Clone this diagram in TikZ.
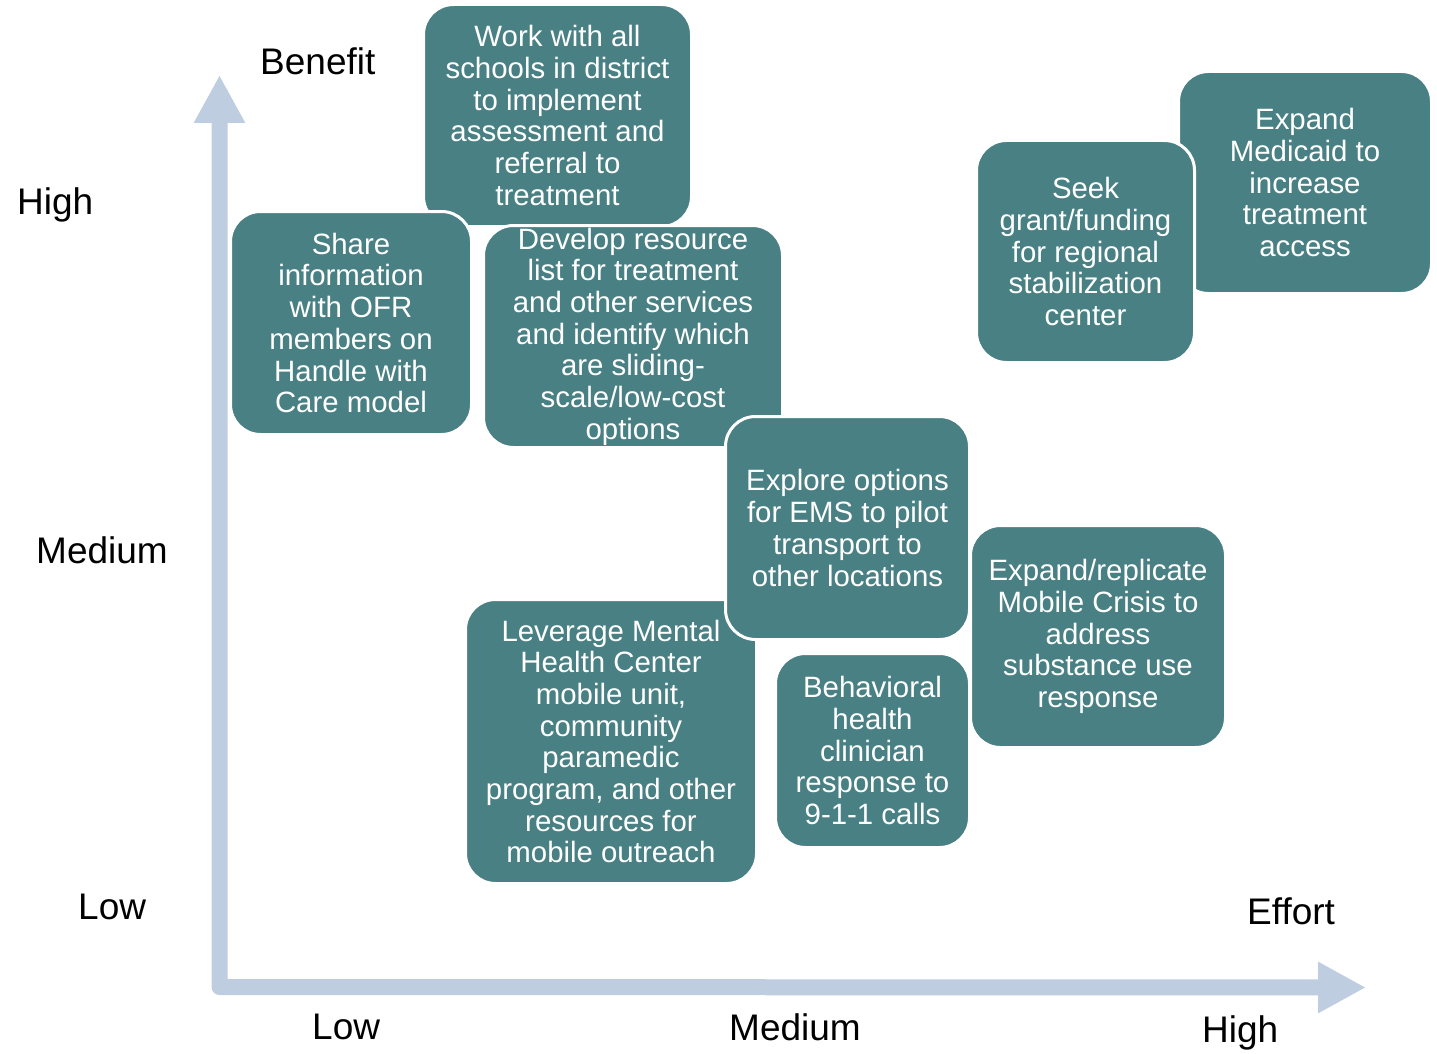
\documentclass[tikz,border=0pt]{standalone}
\usepackage{fontspec}
\setmainfont{Liberation Sans}
\usetikzlibrary{
  arrows.meta,
}
\definecolor{actionteal}{RGB}{73,128,132}
\definecolor{axisblue}{RGB}{191,205,224}
\tikzset{
  action/.style={rectangle, rounded corners=30pt, fill=actionteal, draw=white,
    line width=3pt, text=white, align=center, inner sep=0pt,
    font=\fontsize{29.4}{31.7}\selectfont},
  level/.style={anchor=base west, inner sep=0pt, font=\fontsize{37}{40}\selectfont},
  axis/.style={draw=axisblue, line width=16pt, line join=round,
    {Triangle[width=48pt,length=48pt]}-{Triangle[width=48pt,length=48pt]}},
}

\begin{document}
\begin{tikzpicture}[x=1pt, y=-1pt]
      \useasboundingbox (0,0) rectangle (1437,1054);
      \coordinate (origin) at (219.5,987);
      \coordinate (benefittip) at (219.5,75);
      \coordinate (efforttip) at (1366,987.5);
      \draw[axis] (benefittip) -- (origin) -- (efforttip);

      \node [level] (benefit) at (260,75) {Benefit};
      \node [level] (bhigh) at (17,214) {High};
      \node [level] (bmedium) at (36,563) {Medium};
      \node [level] (blow) at (78,919) {Low};
      \node [level] (effort) at (1247,924) {Effort};
      \node [level] (elow) at (312,1039) {Low};
      \node [level] (emedium) at (729,1040) {Medium};
      \node [level] (ehigh) at (1202,1042) {High};

      \node [action, minimum width=268pt, minimum height=222pt] (work) at (557.5,115.5) {
        Work with all\\schools in district\\to implement\\assessment and\\referral to\\treatment
      };
      \node [action, minimum width=241pt, minimum height=223pt] (share) at (351,323) {
        Share\\information\\with OFR\\members on\\Handle with\\Care model
      };
      \node [action, minimum width=299pt, minimum height=222pt] (develop) at (633,336.5) {
        Develop resource\\list for treatment\\and other services\\and identify which\\are sliding-\\scale/low-cost\\options
      };
      \node [action, minimum width=291pt, minimum height=284pt] (leverage) at (611,741.5) {
        Leverage Mental\\Health Center\\mobile unit,\\community\\paramedic\\program, and other\\resources for\\mobile outreach
      };
      \node [action, minimum width=244pt, minimum height=223pt] (explore) at (847.5,528) {
        Explore options\\for EMS to pilot\\transport to\\other locations
      };
      \node [action, minimum width=194pt, minimum height=194pt] (clinician) at (872.5,750.5) {
        Behavioral\\health\\clinician\\response to\\9-1-1 calls
      };
      \node [action, minimum width=255pt, minimum height=222pt] (crisis) at (1098,636.5) {
        Expand/replicate\\Mobile Crisis to\\address\\substance use\\response
      };
      \node [action, minimum width=253pt, minimum height=222pt] (medicaid) at (1305,182.5) {
        Expand\\Medicaid to\\increase\\treatment\\access
      };
      \node [action, minimum width=218pt, minimum height=222pt] (seek) at (1085.5,251.5) {
        Seek\\grant/funding\\for regional\\stabilization\\center
      };
    \end{tikzpicture}
\end{document}
